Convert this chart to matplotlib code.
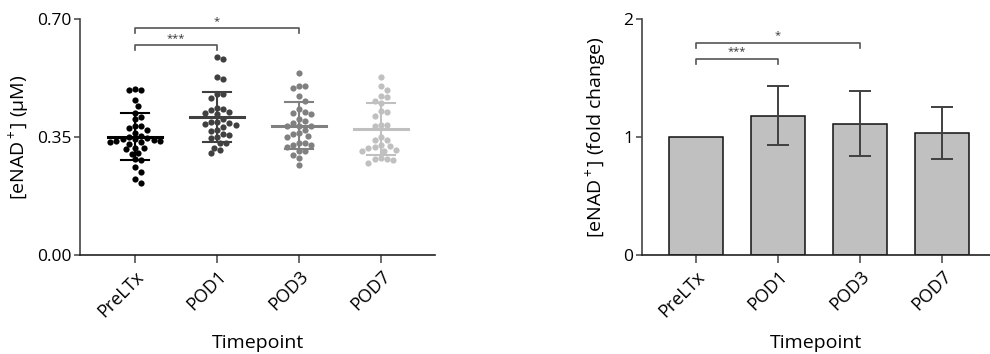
import numpy as np
import matplotlib
matplotlib.use("Agg")
import matplotlib.pyplot as plt

plt.rcParams['font.family'] = ['Open Sans', 'DejaVu Sans']
plt.rcParams['mathtext.fontset'] = 'custom'
plt.rcParams['mathtext.rm'] = 'Open Sans'
plt.rcParams['mathtext.it'] = 'Open Sans:italic'

categories = ["PreLTx", "POD1", "POD3", "POD7"]

preltx = [0.492, 0.488, 0.488, 0.460, 0.442, 0.422, 0.409, 0.403, 0.383, 0.383,
          0.376, 0.371, 0.363, 0.353, 0.350, 0.347, 0.344, 0.344, 0.341, 0.339,
          0.339, 0.336, 0.334, 0.330, 0.318, 0.316, 0.314, 0.302, 0.300, 0.284,
          0.282, 0.260, 0.247, 0.225, 0.215]
pod1 = [0.587, 0.581, 0.527, 0.521, 0.477, 0.477, 0.467, 0.437, 0.432, 0.430,
        0.425, 0.422, 0.418, 0.403, 0.395, 0.395, 0.393, 0.390, 0.387, 0.380,
        0.372, 0.368, 0.360, 0.355, 0.349, 0.346, 0.331, 0.331, 0.318, 0.310, 0.302]
pod3 = [0.539, 0.502, 0.502, 0.494, 0.472, 0.457, 0.432, 0.425, 0.422, 0.418,
        0.403, 0.396, 0.391, 0.383, 0.383, 0.383, 0.371, 0.363, 0.358, 0.353,
        0.349, 0.333, 0.333, 0.326, 0.326, 0.321, 0.309, 0.309, 0.297, 0.287, 0.267]
pod7 = [0.527, 0.501, 0.488, 0.472, 0.468, 0.457, 0.450, 0.427, 0.423, 0.412,
        0.386, 0.386, 0.383, 0.349, 0.341, 0.341, 0.327, 0.324, 0.321, 0.316,
        0.312, 0.309, 0.309, 0.287, 0.285, 0.285, 0.282, 0.272]
groups = [preltx, pod1, pod3, pod7]

# fold change bars
fold_mean = [1.00, 1.18, 1.113, 1.034]
fold_sd = [0.0, 0.25, 0.273, 0.222]

dot_colors = ["#000000", "#404040", "#808080", "#c0c0c0"]
line_colors = ["#000000", "#404040", "#808080", "#c0c0c0"]

fig = plt.figure(figsize=(9.9, 3.54), dpi=100)
W, H = 990, 354

# ---------- left panel ----------
ax1 = fig.add_axes([80 / W, (H - 255) / H, 355 / W, 236 / H])
ax1.set_xlim(-0.67, 3.66)
ax1.set_ylim(0, 0.70)

px_per_x = 355 / (3.66 + 0.67)
px_per_y = 236 / 0.70
diam = 6.2  # pixel spacing between dots


def swarm(vals):
    ys = np.array(vals) * px_per_y
    order = np.argsort(-ys)
    placed = []
    offs = np.zeros(len(vals))
    for i in order:
        y = ys[i]
        cands = [0.0]
        for k in range(1, 30):
            cands += [k * diam * 0.5, -k * diam * 0.5]
        for c in cands:
            ok = True
            for (px, py) in placed:
                if (px - c) ** 2 + (py - y) ** 2 < diam ** 2:
                    ok = False
                    break
            if ok:
                offs[i] = c
                placed.append((c, y))
                break
    return offs / px_per_x


for i, vals in enumerate(groups):
    offs = swarm(vals)
    ax1.scatter(i + offs, vals, s=20, color=dot_colors[i], zorder=3, linewidths=0)
    m = np.mean(vals)
    sd = np.std(vals, ddof=1)
    hw = 27 / px_per_x
    cw = 14 / px_per_x
    ax1.plot([i - hw, i + hw], [m, m], color=line_colors[i], lw=2.2, zorder=4)
    ax1.plot([i, i], [m - sd, m + sd], color=line_colors[i], lw=1.5, zorder=4)
    ax1.plot([i - cw, i + cw], [m + sd, m + sd], color=line_colors[i], lw=1.5, zorder=4)
    ax1.plot([i - cw, i + cw], [m - sd, m - sd], color=line_colors[i], lw=1.5, zorder=4)

brk_col = "#555555"


def bracket(ax, x0, x1, y, drop, text, tdy):
    ax.plot([x0, x0, x1, x1], [y - drop, y, y, y - drop], color=brk_col, lw=1.2,
            clip_on=False)
    ax.text((x0 + x1) / 2, y + tdy, text, ha='center', va='bottom', fontsize=8,
            color="#333333")


bracket(ax1, 0, 1, 0.623, 0.015, "***", 0.004)
bracket(ax1, 0, 2, 0.673, 0.015, "*", 0.004)

ax1.set_yticks([0, 0.35, 0.70])
ax1.set_yticklabels(["0.00", "0.35", "0.70"], fontsize=12.5)
ax1.set_xticks(range(4))
ax1.set_xticklabels(categories, rotation=45, ha='right', rotation_mode='anchor',
                    fontsize=13)
ax1.set_ylabel("[eNAD$^+$] (μM)", fontsize=14, labelpad=4)
ax1.set_xlabel("Timepoint", fontsize=14, labelpad=10)

# ---------- right panel ----------
ax2 = fig.add_axes([641.7 / W, (H - 255) / H, (990 - 641.7) / W, 236 / H])
ax2.set_xlim(-0.66, 3.58)
ax2.set_ylim(0, 2)
x = np.arange(4)
ax2.bar(x, fold_mean, width=0.66, color="#c0c0c0", edgecolor="#111111", lw=1.1,
        zorder=2)
for i in range(1, 4):
    ax2.errorbar(i, fold_mean[i], yerr=fold_sd[i], color="#404040", lw=1.4,
                 capsize=8, capthick=1.4, zorder=3)

bracket(ax2, 0, 1, 1.661, 0.045, "***", 0.012)
bracket(ax2, 0, 2, 1.80, 0.045, "*", 0.012)

ax2.set_yticks([0, 1, 2])
ax2.set_yticklabels(["0", "1", "2"], fontsize=12.5)
ax2.set_xticks(range(4))
ax2.set_xticklabels(categories, rotation=45, ha='right', rotation_mode='anchor',
                    fontsize=13)
ax2.set_ylabel("[eNAD$^+$] (fold change)", fontsize=14, labelpad=10)
ax2.set_xlabel("Timepoint", fontsize=14, labelpad=10)

for ax in (ax1, ax2):
    for s in ("top", "right"):
        ax.spines[s].set_visible(False)
    ax.spines['left'].set_color("#444444")
    ax.spines['bottom'].set_color("#222222")
    ax.spines['left'].set_linewidth(1.2)
    ax.spines['bottom'].set_linewidth(1.2)
    ax.tick_params(axis='y', direction='out', length=4, width=1.1,
                   color="#444444", pad=2)
    ax.tick_params(axis='x', direction='out', length=6, width=1.1,
                   color="#444444", pad=3)

fig.savefig("out.png", dpi=100)
